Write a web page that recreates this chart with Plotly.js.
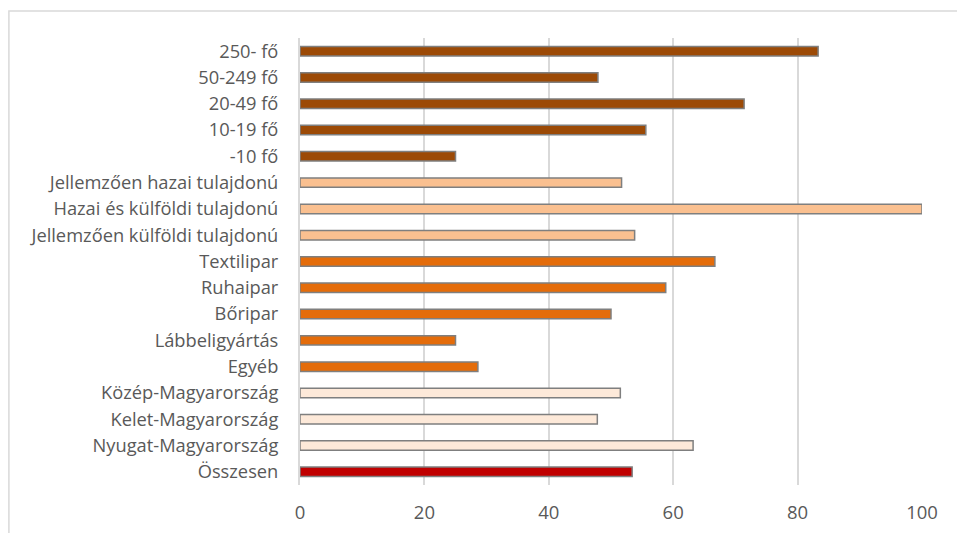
<!DOCTYPE html>
<html>
<head>
<meta charset="utf-8">
<script src="https://cdn.plot.ly/plotly-3.0.1.min.js"></script>
<style>
html,body{margin:0;padding:0;background:#fff;}
#chart{width:957px;height:533px;}
</style>
</head>
<body>
<div id="chart"></div>
<script>
const categories = [
  "250- fő", "50-249 fő", "20-49 fő", "10-19 fő", "-10 fő",
  "Jellemzően hazai tulajdonú", "Hazai és külföldi tulajdonú", "Jellemzően külföldi tulajdonú",
  "Textilipar", "Ruhaipar", "Bőripar", "Lábbeligyártás", "Egyéb",
  "Közép-Magyarország", "Kelet-Magyarország", "Nyugat-Magyarország",
  "Összesen"
];
const values = [83.3, 47.9, 71.4, 55.6, 25.0, 51.7, 100, 53.8, 66.7, 58.8, 50.0, 25.0, 28.6, 51.5, 47.8, 63.2, 53.4];
const groups = ["size","size","size","size","size","owner","owner","owner","branch","branch","branch","branch","branch","region","region","region","total"];
const xTicks = [0, 20, 40, 60, 80, 100];

const groupColors = {size:"#9C4A06", owner:"#FAC090", branch:"#E46C0A", region:"#FDE9D9", total:"#C00000"};

const trace = {
  type: "bar",
  orientation: "h",
  y: categories,
  x: values,
  width: 0.36,
  marker: {
    color: groups.map(g => groupColors[g]),
    line: {color: "#7F7F7F", width: 1.5}
  },
  hoverinfo: "x+y"
};

const layout = {
  width: 957, height: 533,
  margin: {l: 300, r: 35.3, t: 38, b: 48, pad: 0},
  paper_bgcolor: "#fff", plot_bgcolor: "#fff",
  font: {family: "'Open Sans', Lato, sans-serif", size: 18, color: "#595959"},
  showlegend: false,
  bargap: 0.6,
  xaxis: {
    range: [0, 100], tickvals: xTicks, ticktext: xTicks.map(String),
    showgrid: true, gridcolor: "#D9D9D9", gridwidth: 2,
    zeroline: false, showline: false, ticks: "",
    tickfont: {size: 18.5, color: "#595959"},
    ticklabelstandoff: 14, fixedrange: true
  },
  yaxis: {
    type: "category", autorange: "reversed",
    showgrid: false, zeroline: false,
    showline: true, linecolor: "#D9D9D9", linewidth: 2,
    ticks: "", ticklabelstandoff: 16,
    tickfont: {size: 18.3, color: "#595959"}, fixedrange: true
  },
  shapes: [{
    type: "rect", xref: "paper", yref: "paper",
    x0: -0.468, x1: 1.2, y0: -0.3, y1: 1.0604,
    line: {color: "#D9D9D9", width: 1.5}, fillcolor: "rgba(0,0,0,0)", layer: "below"
  }]
};

Plotly.newPlot("chart", [trace], layout, {displayModeBar: false, staticPlot: true});
</script>
</body>
</html>
